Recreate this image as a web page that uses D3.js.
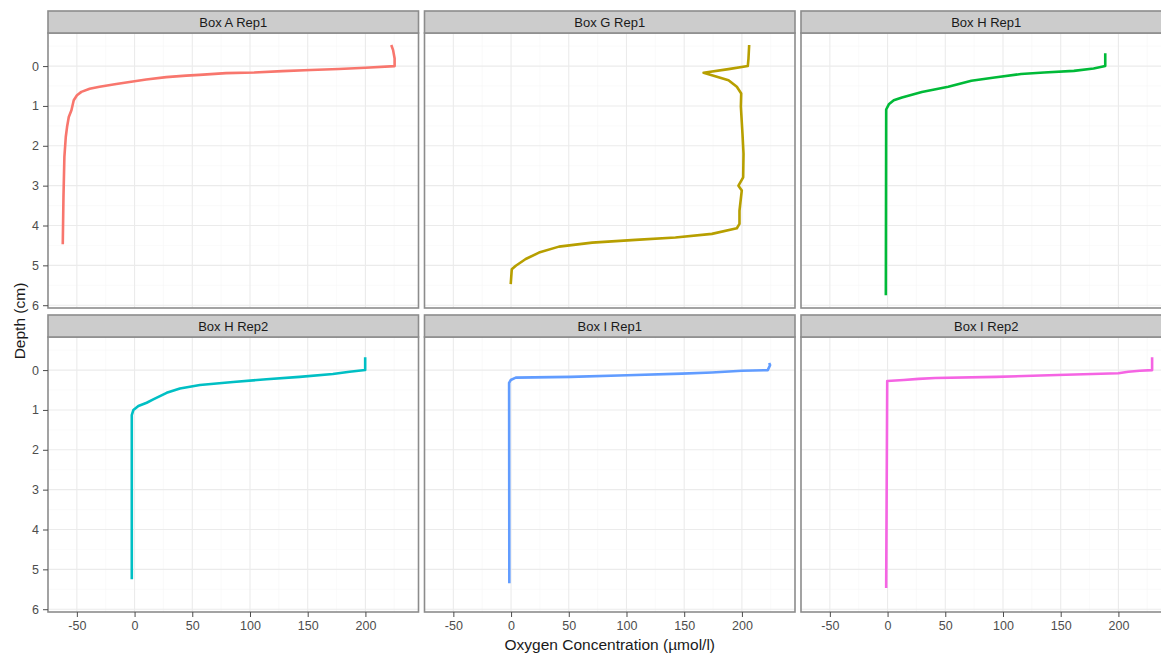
<!DOCTYPE html>
<html>
<head>
<meta charset="utf-8">
<script src="https://cdn.jsdelivr.net/npm/d3@7"></script>
<style>
  body { margin: 0; background: #fff; }
  svg { display: block; font-family: "Liberation Sans", Arial, sans-serif; }
  .grid-major { stroke: #ebebeb; stroke-width: 1.1; }
  .grid-minor { stroke: #f6f6f6; stroke-width: 0.6; }
</style>
</head>
<body>
<div id="canvas"></div>
<script>
// facets, in reading order
var panels = ['Box A Rep1', 'Box G Rep1', 'Box H Rep1', 'Box H Rep2', 'Box I Rep1', 'Box I Rep2'];
var colors = ['#F8766D', '#B79F00', '#00BA38', '#00BFC4', '#619CFF', '#F564E3'];

// depth (cm) and oxygen (umol/l)
var depthA = [-0.53, -0.40, -0.19, 0, 0.04, 0.075, 0.10, 0.126, 0.16, 0.176, 0.22, 0.24, 0.277, 0.336, 0.386, 0.45, 0.52, 0.57, 0.647, 0.73, 0.856, 1.11, 1.28, 1.53, 1.78, 2.28, 3.29, 4.47];
var oxyA   = [222.4, 224, 225.3, 225.3, 200, 177, 152.7, 128, 103.7, 79.2, 56.2, 44.7, 27.4, 10.1, -1.5, -15.8, -30.3, -38.9, -46.1, -49.9, -52.7, -54.7, -57, -58.5, -59.6, -60.8, -61.6, -62.2];

var depthG = [-0.53, -0.19, 0, 0.076, 0.168, 0.353, 0.52, 0.69, 1.02, 1.70, 2.20, 2.79, 3.0, 3.12, 3.63, 3.96, 4.07, 4.21, 4.30, 4.36, 4.43, 4.53, 4.68, 4.84, 5.01, 5.1, 5.47];
var oxyG   = [206.3, 205.7, 205.1, 188.4, 166.8, 188.4, 195.6, 199.4, 199.1, 200.5, 201.4, 201.1, 197, 199.9, 197.9, 197.9, 195.6, 174, 142.4, 107.8, 70.3, 41.5, 24.2, 12.7, 4.1, 0.6, -0.3];

var depthH1 = [-0.32, 0, 0.06, 0.12, 0.16, 0.20, 0.285, 0.37, 0.52, 0.65, 0.79, 0.86, 0.96, 1.09, 5.75];
var oxyH1   = [188.6, 188.6, 178.5, 161.4, 135.6, 115.6, 92.7, 72.6, 52.6, 29.7, 12.5, 5.4, 1.1, -1.2, -1.5];

var depthH2 = [-0.32, 0, 0.04, 0.10, 0.17, 0.23, 0.30, 0.376, 0.46, 0.57, 0.735, 0.82, 0.90, 1.0, 1.13, 5.25];
var oxyH2   = [199.8, 199.8, 186.3, 171.8, 143, 114.3, 85.4, 56.6, 39.3, 27.8, 16.2, 10.5, 3.3, -1, -2.4, -2.4];

var depthI1 = [-0.18, -0.125, 0, 0.017, 0.06, 0.09, 0.13, 0.17, 0.19, 0.25, 0.32, 5.35];
var oxyI1   = [223.6, 224.4, 222.4, 199.9, 174, 148.1, 100.5, 51.6, 4.1, -0.3, -1.7, -1.5];

var depthI2 = [-0.32, 0, 0.017, 0.04, 0.08, 0.125, 0.17, 0.20, 0.22, 0.25, 0.275, 5.43, 5.47];
var oxyI2   = [229.2, 229.2, 218.5, 208.6, 200, 147, 94.1, 41.2, 26.9, 14, -0.3, -1.2, -1.2];

var depths = [depthA, depthG, depthH1, depthH2, depthI1, depthI2];
var oxygens = [oxyA, oxyG, oxyH1, oxyH2, oxyI1, oxyI2];

var xTicks = [-50, 0, 50, 100, 150, 200];
var xMinor = [-75, -25, 25, 75, 125, 175, 225];
var yTicks = [0, 1, 2, 3, 4, 5, 6];
var yMinor = [-0.5, 0.5, 1.5, 2.5, 3.5, 4.5, 5.5];

var W = 1161, H = 654;
var marginL = 48, panelW = 370.5, gapX = 6;
var marginT = 11, stripH = 22, plotH = 275, rowPitch = 304;

var svg = d3.select('#canvas').append('svg')
    .attr('width', W)
    .attr('height', H);

var x = d3.scaleLinear().domain([-75, 246]).range([0, panelW]);
var y = d3.scaleLinear().domain([-0.83, 6.07]).range([0, plotH]);

var line = d3.line()
    .x(function(d){ return x(d.o); })
    .y(function(d){ return y(d.d); });

// plain hyphen minus like the R output
var fmt = function(v){ return String(v); };

panels.forEach(function(name, i){
    var col = i % 3, row = Math.floor(i / 3);
    var px = marginL + col * (panelW + gapX);
    var py = marginT + row * rowPitch;

    var g = svg.append('g').attr('transform', 'translate(' + px + ',' + (py + stripH) + ')');

    // background grid
    g.append('rect').attr('width', panelW).attr('height', plotH).style('fill', '#fff');
    xMinor.forEach(function(v){
        g.append('line').attr('class', 'grid-minor')
            .attr('x1', x(v)).attr('x2', x(v)).attr('y1', 0).attr('y2', plotH);
    });
    yMinor.forEach(function(v){
        g.append('line').attr('class', 'grid-minor')
            .attr('x1', 0).attr('x2', panelW).attr('y1', y(v)).attr('y2', y(v));
    });
    xTicks.forEach(function(v){
        g.append('line').attr('class', 'grid-major')
            .attr('x1', x(v)).attr('x2', x(v)).attr('y1', 0).attr('y2', plotH);
    });
    yTicks.forEach(function(v){
        g.append('line').attr('class', 'grid-major')
            .attr('x1', 0).attr('x2', panelW).attr('y1', y(v)).attr('y2', y(v));
    });

    var pts = depths[i].map(function(d, k){ return {d: d, o: oxygens[i][k]}; });
    g.append('path')
        .datum(pts)
        .attr('d', line)
        .style('fill', 'none')
        .style('stroke', colors[i])
        .style('stroke-width', 2.6)
        .style('stroke-linejoin', 'round');

    g.append('rect').attr('width', panelW).attr('height', plotH)
        .style('fill', 'none').style('stroke', '#8c8c8c').style('stroke-width', 1.6);

    // strip
    svg.append('rect')
        .attr('x', px).attr('y', py)
        .attr('width', panelW).attr('height', stripH)
        .style('fill', '#cccccc').style('stroke', '#8c8c8c').style('stroke-width', 1.6);
    svg.append('text')
        .attr('x', px + panelW / 2).attr('y', py + stripH / 2 + 4.5)
        .attr('text-anchor', 'middle')
        .style('font-size', '13px').style('fill', '#1a1a1a')
        .text(name);

    // axes only on the outside panels
    if (col === 0) {
        var ya = g.append('g').call(d3.axisLeft(y).tickValues(yTicks).tickFormat(fmt).tickSize(5).tickPadding(4));
        ya.select('.domain').remove();
        ya.selectAll('line').style('stroke', '#4d4d4d');
        ya.selectAll('text').style('font-size', '12.5px').style('fill', '#4d4d4d')
            .style('font-family', '"Liberation Sans", Arial, sans-serif');
    }
    if (row === 1) {
        var xa = g.append('g').attr('transform', 'translate(0,' + plotH + ')')
            .call(d3.axisBottom(x).tickValues(xTicks).tickFormat(fmt).tickSize(5).tickPadding(4));
        xa.select('.domain').remove();
        xa.selectAll('line').style('stroke', '#4d4d4d');
        xa.selectAll('text').style('font-size', '12.5px').style('fill', '#4d4d4d')
            .style('font-family', '"Liberation Sans", Arial, sans-serif');
    }
});

// axis titles
svg.append('text')
    .attr('x', marginL + (3 * panelW + 2 * gapX) / 2)
    .attr('y', 650)
    .attr('text-anchor', 'middle')
    .style('font-size', '15.5px').style('fill', '#1a1a1a')
    .text('Oxygen Concentration (µmol/l)');

svg.append('text')
    .attr('transform', 'translate(25,321) rotate(-90)')
    .attr('text-anchor', 'middle')
    .style('font-size', '15.5px').style('fill', '#1a1a1a')
    .text('Depth (cm)');
</script>
</body>
</html>
